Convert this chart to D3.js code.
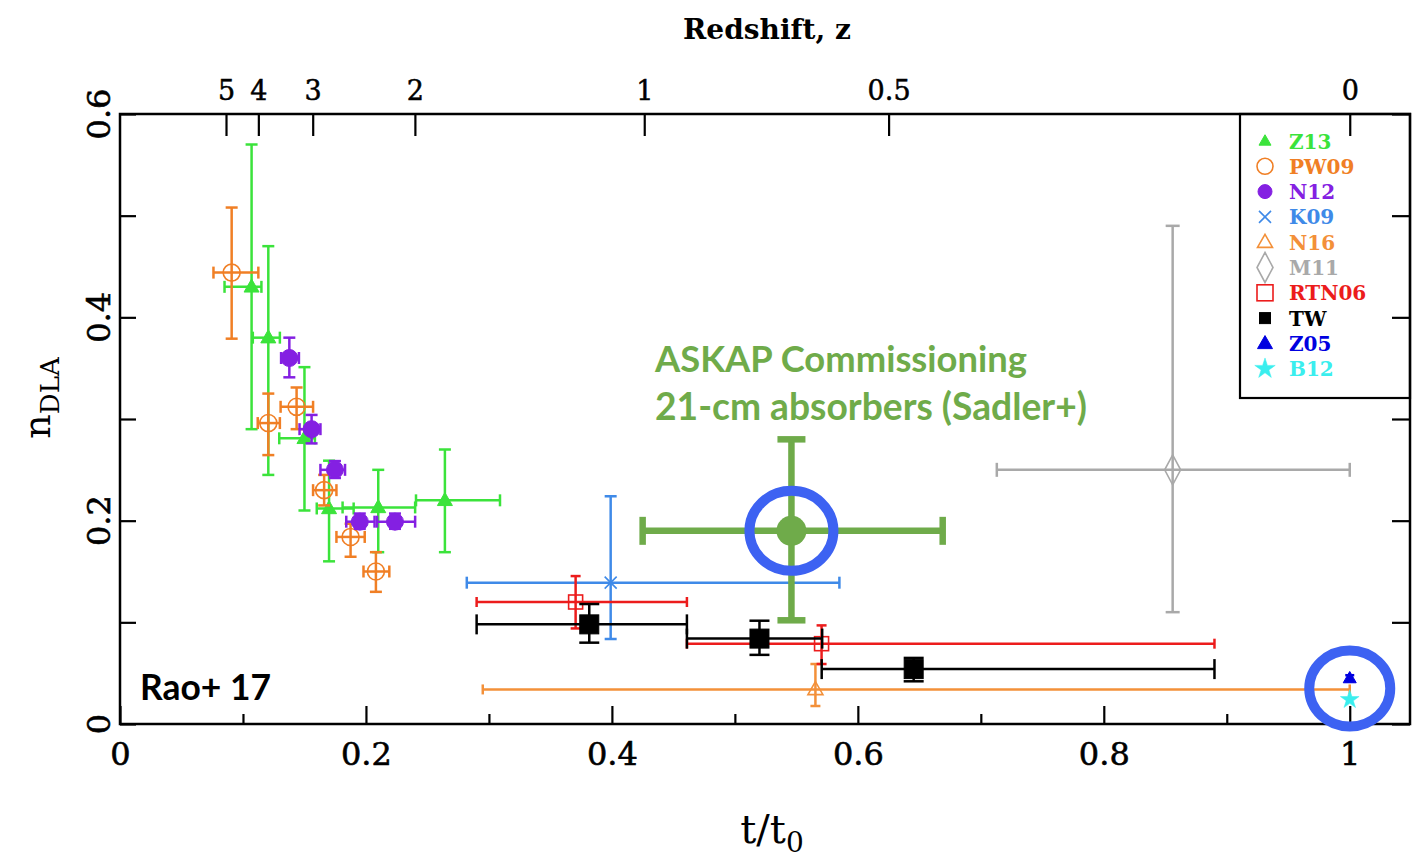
<!DOCTYPE html>
<html><head><meta charset="utf-8">
<script src="https://cdn.jsdelivr.net/npm/d3@7"></script>
<style>body{margin:0;background:#fff}</style>
</head><body>
<svg id="c" width="1414" height="862"></svg>
<script>
// ---- data: each row = [t/t0, nDLA, xLow, xHigh, yLow, yHigh]
const Z13 = [
  [0.107, 0.430, 0.085, 0.115, 0.290, 0.570],
  [0.1206, 0.380, 0.108, 0.130, 0.245, 0.470],
  [0.150, 0.281, 0.1295, 0.1585, 0.210, 0.351],
  [0.170, 0.212, 0.160, 0.190, 0.160, 0.259],
  [0.210, 0.213, 0.181, 0.240, 0.169, 0.250],
  [0.2642, 0.220, 0.2407, 0.309, 0.169, 0.270]
];
const PW09 = [
  [0.0908, 0.444, 0.076, 0.1125, 0.379, 0.508],
  [0.1206, 0.296, 0.112, 0.130, 0.2645, 0.325],
  [0.1436, 0.312, 0.1306, 0.157, 0.290, 0.331],
  [0.166, 0.230, 0.157, 0.176, 0.215, 0.245],
  [0.1875, 0.184, 0.176, 0.199, 0.1645, 0.197],
  [0.2081, 0.150, 0.198, 0.219, 0.130, 0.169]
];
const N12 = [
  [0.1377, 0.360, 0.131, 0.1455, 0.341, 0.380],
  [0.1558, 0.290, 0.146, 0.163, 0.276, 0.304],
  [0.1748, 0.250, 0.163, 0.183, 0.242, 0.2586],
  [0.195, 0.199, 0.184, 0.207, 0.192, 0.207],
  [0.2236, 0.199, 0.209, 0.240, 0.192, 0.207]
];
const K09 = [[0.399, 0.139, 0.282, 0.585, 0.0836, 0.224]];
const N16 = [[0.5655, 0.034, 0.295, 1.0, 0.0177, 0.059]];
const M11 = [[0.856, 0.250, 0.713, 1.0, 0.110, 0.490]];
const RTN06 = [
  [0.3705, 0.120, 0.290, 0.461, 0.094, 0.1455],
  [0.5705, 0.079, 0.461, 0.890, 0.059, 0.097]
];
const TW = [
  [0.3816, 0.098, 0.290, 0.461, 0.080, 0.118],
  [0.520, 0.084, 0.461, 0.571, 0.068, 0.1016],
  [0.6454, 0.054, 0.5706, 0.890, 0.042, 0.065]
];
const Z05 = [[1.0, 0.045, 1.0, 1.0, 0.042, 0.048]];
const B12 = [[1.0, 0.024, 1.0, 1.0, 0.024, 0.024]];
const ASKAP = [[0.546, 0.190, 0.425, 0.669, 0.102, 0.280]];
const highlight = [[0.546, 0.190], [1.0, 0.035]];

const xTicks = [0, 0.2, 0.4, 0.6, 0.8, 1];
const xTickLabels = ["0", "0.2", "0.4", "0.6", "0.8", "1"];
const xMinor = [0.1, 0.3, 0.5, 0.7, 0.9];
const yTicks = [0, 0.2, 0.4, 0.6];
const yTickLabels = ["0", "0.2", "0.4", "0.6"];
const yMinor = [0.1, 0.3, 0.5];
const zLabels = ["5", "4", "3", "2", "1", "0.5", "0"];
const zPos = [0.0862, 0.1125, 0.1567, 0.2398, 0.4263, 0.625, 1.0];
const legendNames = ["Z13", "PW09", "N12", "K09", "N16", "M11", "RTN06", "TW", "Z05", "B12"];

// ---- styles
const series = [
  {name: "M11", data: M11, color: "#a9a9a9", sym: "diamond", open: true, size: 1, cap: 14},
  {name: "N16", data: N16, color: "#f39039", sym: "triangle", open: true, size: 15, cap: 10},
  {name: "K09", data: K09, color: "#3f8ae8", sym: "x", size: 12, cap: 12},
  {name: "RTN06", data: RTN06, color: "#ec1c1c", sym: "square", open: true, size: 14, cap: 10},
  {name: "TW", data: TW, color: "#000000", sym: "square", size: 19, cap: 20},
  {name: "Z13", data: Z13, color: "#3be33b", sym: "triangle", size: 15, cap: 12},
  {name: "PW09", data: PW09, color: "#f07f25", sym: "circle", open: true, size: 8.5, cap: 12},
  {name: "N12", data: N12, color: "#8420e2", sym: "circle", size: 8.5, cap: 12},
  {name: "Z05", data: Z05, color: "#0000e0", sym: "triangle", size: 13, cap: 9},
  {name: "B12", data: B12, color: "#3aeeee", sym: "star", size: 11, cap: 6}
];
const legendStyle = {
  Z13: {color: "#3be33b", sym: "triangle", size: 12},
  PW09: {color: "#f07f25", sym: "circle", open: true, size: 8},
  N12: {color: "#8420e2", sym: "circle", size: 7},
  K09: {color: "#3f8ae8", sym: "x", size: 12},
  N16: {color: "#f39039", sym: "triangle", open: true, size: 15},
  M11: {color: "#a9a9a9", sym: "diamond", open: true, size: 1},
  RTN06: {color: "#ec1c1c", sym: "square", open: true, size: 16},
  TW: {color: "#000000", sym: "square", size: 11},
  Z05: {color: "#0000e0", sym: "triangle", size: 15},
  B12: {color: "#3aeeee", sym: "star", size: 12}
};

const svg = d3.select("#c");
const L = 120, R = 1410, T = 114, B = 724;
const x = d3.scaleLinear().domain([0, 1.049]).range([L, R]);
const y = d3.scaleLinear().domain([0, 0.6]).range([B, T]);
const serif = "'DejaVu Serif', serif";

function drawSymbol(g, cx, cy, st) {
  const c = st.color;
  const s = st.size;
  if (st.sym === "circle") {
    g.append("circle").attr("cx", cx).attr("cy", cy).attr("r", s)
      .attr("fill", st.open ? "none" : c).attr("stroke", c).attr("stroke-width", st.open ? 1.6 : 1);
  } else if (st.sym === "square") {
    g.append("rect").attr("x", cx - s / 2).attr("y", cy - s / 2).attr("width", s).attr("height", s)
      .attr("fill", st.open ? "none" : c).attr("stroke", c).attr("stroke-width", st.open ? 1.6 : 1);
  } else if (st.sym === "triangle") {
    const h = s * 0.87;
    g.append("path").attr("d", `M${cx},${cy - h * 0.6}L${cx + s / 2},${cy + h * 0.4}L${cx - s / 2},${cy + h * 0.4}Z`)
      .attr("fill", st.open ? "none" : c).attr("stroke", c).attr("stroke-width", st.open ? 1.6 : 1);
  } else if (st.sym === "x") {
    const a = s / 2;
    g.append("path").attr("d", `M${cx - a},${cy - a}L${cx + a},${cy + a}M${cx - a},${cy + a}L${cx + a},${cy - a}`)
      .attr("stroke", c).attr("stroke-width", 1.6).attr("fill", "none");
  } else if (st.sym === "diamond") {
    const w = 8 * st.size, hh = 15 * st.size;
    g.append("path").attr("d", `M${cx},${cy - hh}L${cx + w},${cy}L${cx},${cy + hh}L${cx - w},${cy}Z`)
      .attr("fill", "none").attr("stroke", c).attr("stroke-width", 1.6);
  } else if (st.sym === "star") {
    g.append("path").attr("transform", `translate(${cx},${cy})`)
      .attr("d", d3.symbol(d3.symbolStar, s * s * 0.9)())
      .attr("fill", c).attr("stroke", c).attr("stroke-width", 0.5);
  }
}

// ---- frame
svg.append("rect").attr("x", L).attr("y", T).attr("width", R - L).attr("height", B - T)
  .attr("fill", "none").attr("stroke", "#000").attr("stroke-width", 2.5);

// bottom axis
const gx = svg.append("g").attr("transform", `translate(0,${B})`)
  .call(d3.axisBottom(x).tickValues(xTicks).tickSize(-18).tickPadding(18)
    .tickFormat((d, i) => xTickLabels[i]));
gx.select(".domain").remove();
gx.selectAll(".tick line").attr("stroke-width", 2.2);
gx.selectAll("text").attr("font-family", serif).attr("font-size", 32).attr("fill", "#000")
  .attr("stroke", "#000").attr("stroke-width", 0.6);
const gxm = svg.append("g").attr("transform", `translate(0,${B})`)
  .call(d3.axisBottom(x).tickValues(xMinor).tickSize(-10).tickFormat(""));
gxm.select(".domain").remove();
gxm.selectAll(".tick line").attr("stroke-width", 2.2);

// left axis
const gy = svg.append("g").attr("transform", `translate(${L},0)`)
  .call(d3.axisLeft(y).tickValues(yTicks.concat(yMinor)).tickSize(-16).tickFormat(""));
gy.select(".domain").remove();
gy.selectAll(".tick line").attr("stroke-width", 2.2);
yTicks.forEach((v, i) => {
  svg.append("text").attr("transform", `translate(110,${y(v)}) rotate(-90)`)
    .attr("text-anchor", "middle").attr("font-family", serif).attr("font-size", 32)
    .attr("stroke", "#000").attr("stroke-width", 0.6)
    .text(yTickLabels[i]);
});
// right axis ticks
const gr = svg.append("g").attr("transform", `translate(${R},0)`)
  .call(d3.axisRight(y).tickValues(yTicks.concat(yMinor)).tickSize(-18).tickFormat(""));
gr.select(".domain").remove();
gr.selectAll(".tick line").attr("stroke-width", 2.2);

// top axis (redshift)
const gt = svg.append("g").attr("transform", `translate(0,${T})`)
  .call(d3.axisTop(x).tickValues(zPos).tickSize(-22).tickPadding(14)
    .tickFormat((d, i) => zLabels[i]));
gt.select(".domain").remove();
gt.selectAll(".tick line").attr("stroke-width", 2.2);
gt.selectAll("text").attr("font-family", serif).attr("font-size", 27).attr("fill", "#000")
  .attr("stroke", "#000").attr("stroke-width", 0.5);

// axis titles
svg.append("text").attr("x", 767).attr("y", 39).attr("text-anchor", "middle")
  .attr("font-family", serif).attr("font-weight", "bold").attr("font-size", 28).text("Redshift,  z");
const xt = svg.append("text").attr("x", 772).attr("y", 843).attr("text-anchor", "middle")
  .attr("font-family", serif).attr("font-size", 40);
xt.append("tspan").text("t/t");
xt.append("tspan").attr("font-size", 28).attr("dy", 9).text("0");
const yt = svg.append("text").attr("transform", "translate(50,398) rotate(-90)").attr("text-anchor", "middle")
  .attr("font-family", serif).attr("font-size", 38);
yt.append("tspan").text("n");
yt.append("tspan").attr("font-size", 26).attr("dy", 9).text("DLA");

// ---- error bars and markers
const plot = svg.append("g");
function errbars(g, d, color, cap, sw) {
  const [px, py, xl, xh, yl, yh] = d;
  if (xl !== xh) {
    g.append("line").attr("x1", x(xl)).attr("x2", x(xh)).attr("y1", y(py)).attr("y2", y(py))
      .attr("stroke", color).attr("stroke-width", sw);
    [xl, xh].forEach(v => g.append("line").attr("x1", x(v)).attr("x2", x(v))
      .attr("y1", y(py) - cap / 2).attr("y2", y(py) + cap / 2).attr("stroke", color).attr("stroke-width", sw));
  }
  if (yl !== yh) {
    g.append("line").attr("x1", x(px)).attr("x2", x(px)).attr("y1", y(yl)).attr("y2", y(yh))
      .attr("stroke", color).attr("stroke-width", sw);
    [yl, yh].forEach(v => g.append("line").attr("y1", y(v)).attr("y2", y(v))
      .attr("x1", x(px) - cap / 2).attr("x2", x(px) + cap / 2).attr("stroke", color).attr("stroke-width", sw));
  }
}
series.forEach(s => {
  const g = plot.append("g");
  s.data.forEach(d => errbars(g, d, s.color, s.cap, 2.5));
  s.data.forEach(d => drawSymbol(g, x(d[0]), y(d[1]), s));
});

// ASKAP point
const askapColor = "#6fab4a";
ASKAP.forEach(d => {
  errbars(plot, d, askapColor, 28, 6.5);
  plot.append("circle").attr("cx", x(d[0])).attr("cy", y(d[1])).attr("r", 15).attr("fill", askapColor);
});
// highlight rings
const ringR = [[42, 40], [40.5, 38]];
highlight.forEach((d, i) => {
  plot.append("ellipse").attr("cx", x(d[0])).attr("cy", y(d[1])).attr("rx", ringR[i][0]).attr("ry", ringR[i][1])
    .attr("fill", "none").attr("stroke", "#3d62f2").attr("stroke-width", 10);
});

// annotation texts
function fitText(t, w) {
  const cur = +t.attr("font-size");
  const bw = t.node().getComputedTextLength();
  t.attr("font-size", cur * w / bw);
}
const a1 = svg.append("text").attr("x", 655).attr("y", 372).attr("font-family", "Lato, 'Open Sans', sans-serif")
  .attr("font-weight", "bold").attr("font-size", 31).attr("fill", askapColor).text("ASKAP Commissioning");
fitText(a1, 372);
const a2 = svg.append("text").attr("x", 655).attr("y", 420).attr("font-family", "Lato, 'Open Sans', sans-serif")
  .attr("font-weight", "bold").attr("font-size", 31).attr("fill", askapColor).text("21-cm absorbers (Sadler+)");
fitText(a2, 432);
const r1 = svg.append("text").attr("x", 140).attr("y", 700).attr("font-family", "Lato, 'Open Sans', sans-serif")
  .attr("font-weight", "bold").attr("font-size", 28).attr("fill", "#000").text("Rao+ 17");
fitText(r1, 131);

// ---- legend
const lg = svg.append("g");
lg.append("rect").attr("x", 1240).attr("y", T).attr("width", R - 1240).attr("height", 398 - T)
  .attr("fill", "none").attr("stroke", "#000").attr("stroke-width", 2.2);
legendNames.forEach((n, i) => {
  const cy = 141 + i * 25.3;
  const st = legendStyle[n];
  drawSymbol(lg, 1265, cy, st);
  lg.append("text").attr("x", 1289).attr("y", cy + 7.5).attr("font-family", serif)
    .attr("font-weight", "bold").attr("font-size", 20).attr("fill", st.color).text(n);
});
</script>
</body></html>
